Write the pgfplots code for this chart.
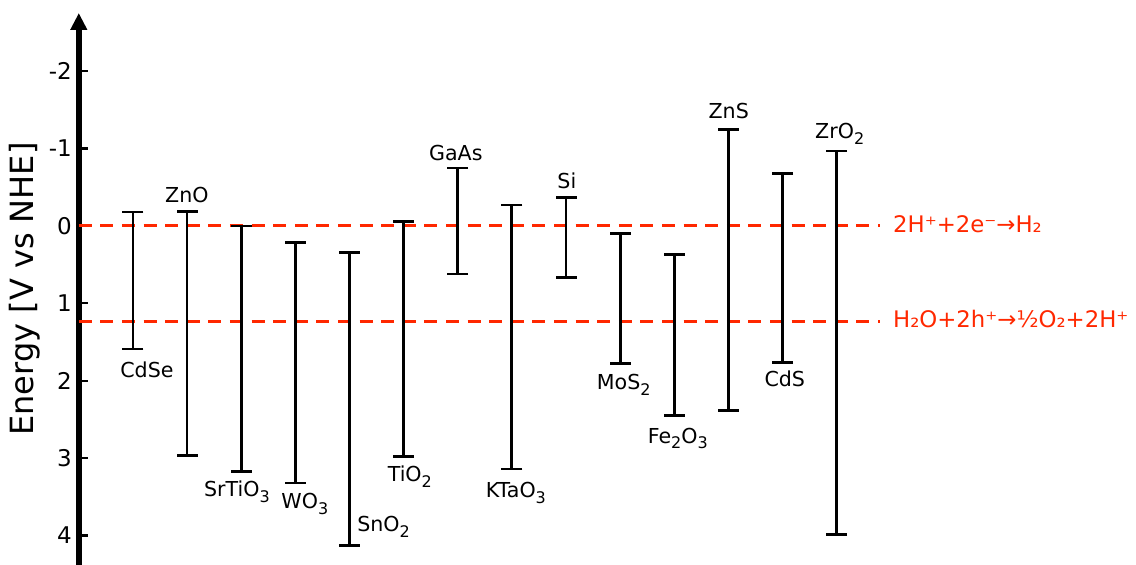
\documentclass[border=0pt]{standalone}
\usepackage{fontspec}
\setmainfont{DejaVu Sans}
\usepackage{pgfplots}
\pgfplotsset{compat=1.18}
\usetikzlibrary{arrows.meta}
\definecolor{redline}{RGB}{255,40,0}

\newcommand{\sub}[1]{\raisebox{-0.45ex}{\fontsize{8}{9}\selectfont #1}}
\tikzset{lab/.style={font=\fontsize{10.3}{12}\selectfont, inner sep=0pt, anchor=base}}

\begin{document}
\begin{tikzpicture}
\useasboundingbox (-39.4pt,0pt) rectangle (528.6pt,282.5pt);
\begin{axis}[
  scale only axis, width=400.6pt, height=276pt,
  xmin=0, xmax=14.8, ymin=-2.752, ymax=4.38,
  y dir=reverse,
  axis x line=none,
  axis y line=left,
  axis line style={-},
  y axis line style={line width=3.2pt, {Triangle[length=8.5pt,width=8pt]}-},
  ytick={-2,-1,0,1,2,3,4},
  ytick pos=left,
  tick align=inside,
  major tick length=4.5pt,
  tick style={line width=1.1pt, black},
  yticklabel style={font=\fontsize{11.5}{14}\selectfont},
  /pgf/number format/assume math mode=true,
  ylabel={Energy [V vs NHE]},
  ylabel style={font=\fontsize{16}{19}\selectfont, at={(axis description cs:-0.0672,0.5)}, anchor=center},
  unbounded coords=jump,
  clip=false,
]
\addplot[redline, line width=1.5pt, dash pattern=on 6.5pt off 4.3pt] coordinates {(0,0) (14.8,0)};
\addplot[redline, line width=1.5pt, dash pattern=on 6.5pt off 4.3pt] coordinates {(0,1.23) (14.8,1.23)};

% band edges: conduction band (top) and valence band (bottom), V vs NHE
\addplot[black, line width=1.4pt, mark=-, mark size=5.25pt, mark options={line width=1.4pt}]
  table[x=x, y=e] {
x  e
1  -0.18
1   1.59
1   nan
2  -0.19
2   2.97
2   nan
3   0.00
3   3.17
3   nan
4   0.21
4   3.32
4   nan
5   0.34
5   4.13
5   nan
6  -0.06
6   2.98
6   nan
7  -0.75
7   0.62
7   nan
8  -0.27
8   3.14
8   nan
9  -0.37
9   0.67
9   nan
10  0.10
10  1.78
10  nan
11  0.37
11  2.45
11  nan
12 -1.25
12  2.38
12  nan
13 -0.68
13  1.76
13  nan
14 -0.97
14  3.99
};

\node[lab] at (axis cs:1.259,1.964) {CdSe};
\node[lab] at (axis cs:1.997,-0.297) {ZnO};
\node[lab] at (axis cs:2.921,3.501) {SrTiO\sub{3}};
\node[lab] at (axis cs:4.176,3.656) {WO\sub{3}};
\node[lab, anchor=base west] at (axis cs:5.137,3.953) {SnO\sub{2}};
\node[lab] at (axis cs:6.115,3.307) {TiO\sub{2}};
\node[lab] at (axis cs:6.965,-0.840) {GaAs};
\node[lab] at (axis cs:8.073,3.514) {KTaO\sub{3}};
\node[lab] at (axis cs:9.015,-0.478) {Si};
\node[lab] at (axis cs:10.067,2.119) {MoS\sub{2}};
\node[lab] at (axis cs:11.065,2.804) {Fe\sub{2}O\sub{3}};
\node[lab] at (axis cs:12.006,-1.395) {ZnS};
\node[lab] at (axis cs:13.041,2.080) {CdS};
\node[lab] at (axis cs:14.056,-1.124) {ZrO\sub{2}};

\node[font=\fontsize{11.4}{14}\selectfont, text=redline, inner sep=0pt, anchor=base west] at (axis cs:15.035,0.090) {2H⁺+2e⁻→H₂};
\node[font=\fontsize{11.4}{14}\selectfont, text=redline, inner sep=0pt, anchor=base west] at (axis cs:15.035,1.318) {H₂O+2h⁺→½O₂+2H⁺};
\end{axis}
\end{tikzpicture}
\end{document}
